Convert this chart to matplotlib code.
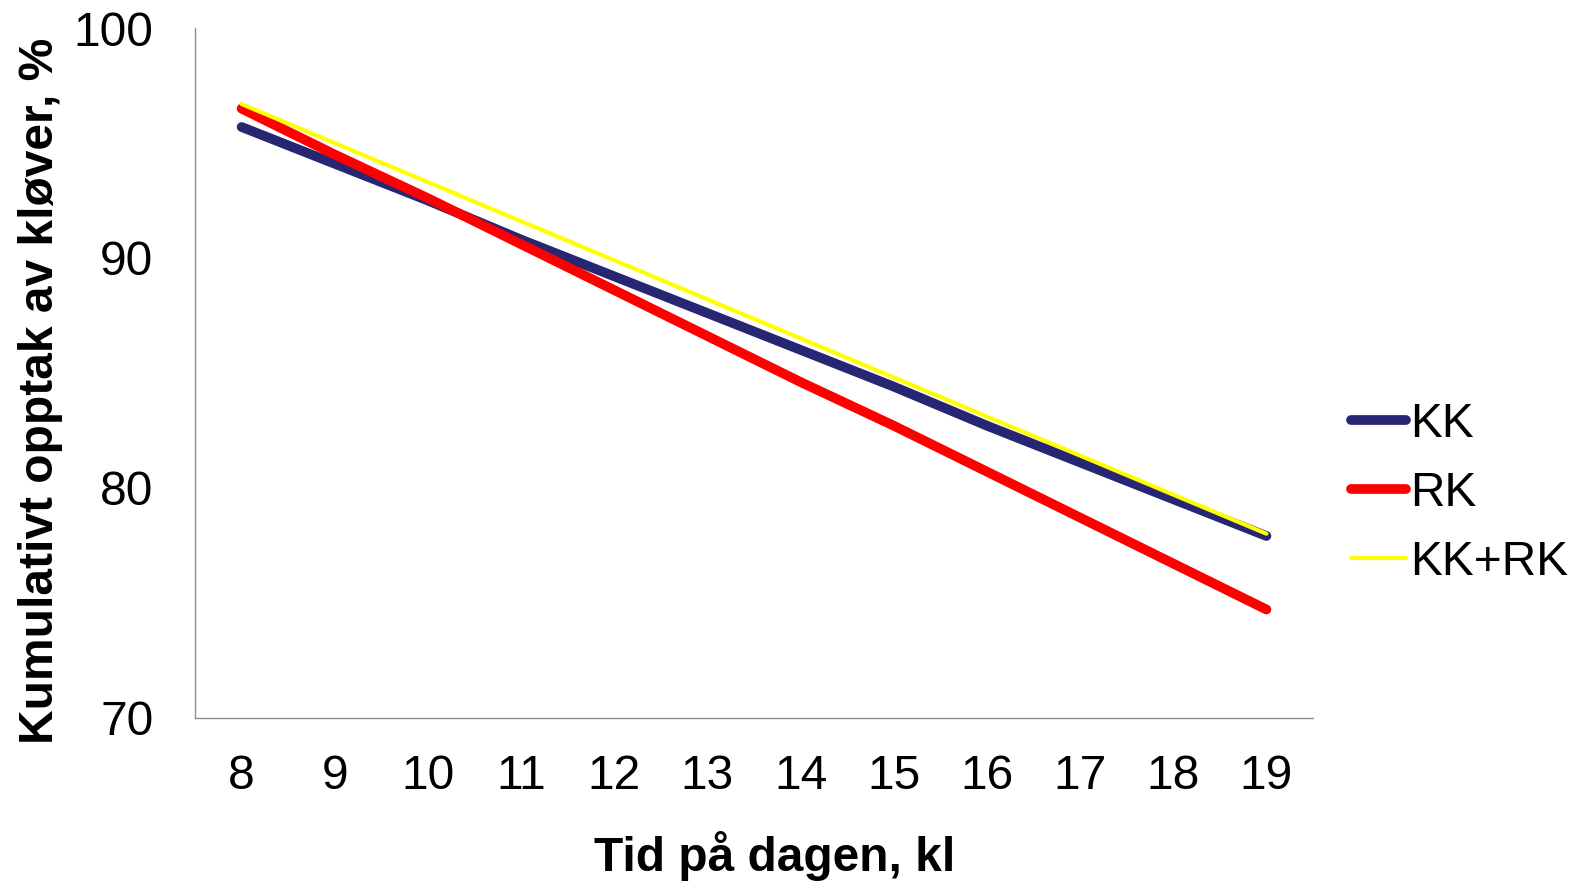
import matplotlib
matplotlib.use("Agg")
import matplotlib.pyplot as plt

hours = [8, 9, 10, 11, 12, 13, 14, 15, 16, 17, 18, 19]
kk = [95.7, 94.1, 92.5, 90.8, 89.2, 87.6, 86.0, 84.4, 82.7, 81.1, 79.5, 77.9]
rk = [96.5, 94.5, 92.6, 90.6, 88.6, 86.6, 84.6, 82.7, 80.7, 78.7, 76.7, 74.7]
kk_rk = [96.7, 95.0, 93.3, 91.6, 89.9, 88.2, 86.5, 84.8, 83.1, 81.4, 79.7, 78.0]
series_names = ["KK", "RK", "KK+RK"]
yticks = [70, 80, 90, 100]

plt.rcParams['font.family'] = ['Liberation Sans', 'DejaVu Sans']

FS = 34.5
W, H = 1578, 881
fig = plt.figure(figsize=(W / 100, H / 100), dpi=100)
ax = fig.add_axes([195 / W, 1 - 717.5 / H, (1313 - 195) / W, (717.5 - 28.2) / H])

ax.plot(hours, kk, color='#262673', lw=7.0, solid_capstyle='round', label=series_names[0])
ax.plot(hours, rk, color='#FF0000', lw=7.0, solid_capstyle='round', label=series_names[1])
ax.plot(hours, kk_rk, color='#FFFF00', lw=3.0, solid_capstyle='round', label=series_names[2])

ax.set_xlim(7.5, 19.5)
ax.set_ylim(70, 100)
ax.set_xticks(hours)
ax.set_xticklabels([str(h) for h in hours])
ax.set_yticks(yticks)
ax.tick_params(axis='both', length=0, labelsize=FS)
ax.tick_params(axis='y', pad=30)
ax.tick_params(axis='x', pad=26)

for s in ['top', 'right']:
    ax.spines[s].set_visible(False)
for s in ['left', 'bottom']:
    ax.spines[s].set_color('#8C8C8C')
    ax.spines[s].set_linewidth(1.0)

fig.text(40 / 1568, 1 - 388 / 875, "Kumulativt opptak av kløver, %", rotation=90,
         ha='center', va='center', fontsize=FS, fontweight='bold')
fig.text(770 / 1568, 1 - 850 / 875, "Tid på dagen, kl", ha='center', va='center',
         fontsize=FS, fontweight='bold')

fig.legend(loc='center left', bbox_to_anchor=(1342 / 1568, 1 - 490 / 875), frameon=False,
           fontsize=FS, handlelength=1.15, handletextpad=0.1, labelspacing=0.5,
           borderpad=0, borderaxespad=0)

fig.savefig("out.png", dpi=100)
